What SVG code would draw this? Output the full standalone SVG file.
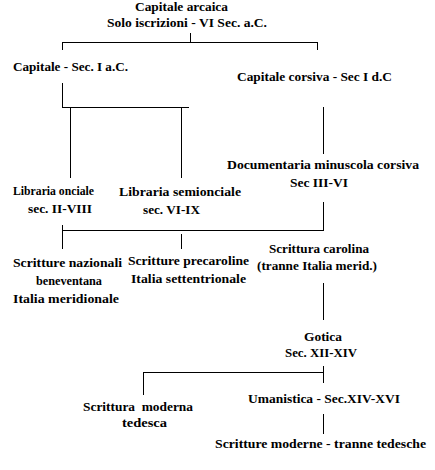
<svg xmlns="http://www.w3.org/2000/svg" width="435" height="470" viewBox="0 0 435 470">
<style>
text{font-family:"Liberation Serif","Times New Roman",serif;font-weight:bold;font-size:13px;fill:#000}
.c line{stroke:#000;stroke-width:1;shape-rendering:crispEdges}
</style>
<rect width="435" height="470" fill="#fff"/>
<g class="c" id="connectors">
<line x1="190.5" y1="33" x2="190.5" y2="42"/>
<line x1="62" y1="42.5" x2="318" y2="42.5"/>
<line x1="62.5" y1="42" x2="62.5" y2="50"/>
<line x1="317.5" y1="42" x2="317.5" y2="50"/>
<line x1="62.5" y1="83" x2="62.5" y2="107"/>
<line x1="62" y1="107.5" x2="189" y2="107.5"/>
<line x1="70.5" y1="107" x2="70.5" y2="178"/>
<line x1="181.5" y1="107" x2="181.5" y2="178"/>
<line x1="323.5" y1="107" x2="323.5" y2="154"/>
<line x1="323.5" y1="202" x2="323.5" y2="230"/>
<line x1="62" y1="230.5" x2="324" y2="230.5"/>
<line x1="62.5" y1="225" x2="62.5" y2="249"/>
<line x1="181.5" y1="234" x2="181.5" y2="249"/>
<line x1="323.5" y1="283" x2="323.5" y2="320"/>
<line x1="323.5" y1="366" x2="323.5" y2="383"/>
<line x1="143" y1="372.5" x2="324" y2="372.5"/>
<line x1="143.5" y1="372" x2="143.5" y2="395"/>
<line x1="323.5" y1="414" x2="323.5" y2="434"/>
</g>
<g id="n-arcaica">
<text x="135" y="11" textLength="93" lengthAdjust="spacingAndGlyphs">Capitale arcaica</text>
<text x="107" y="27" textLength="160" lengthAdjust="spacingAndGlyphs">Solo iscrizioni - VI Sec. a.C.</text>
</g>
<g id="n-capitale">
<text x="13" y="71" textLength="115" lengthAdjust="spacingAndGlyphs">Capitale - Sec. I a.C.</text>
</g>
<g id="n-corsiva">
<text x="237" y="81" textLength="155" lengthAdjust="spacingAndGlyphs">Capitale corsiva - Sec I d.C</text>
</g>
<g id="n-documentaria">
<text x="227" y="169" textLength="192" lengthAdjust="spacingAndGlyphs">Documentaria minuscola corsiva</text>
<text x="290" y="187" textLength="58" lengthAdjust="spacingAndGlyphs">Sec III-VI</text>
</g>
<g id="n-onciale">
<text x="13" y="195" textLength="81" lengthAdjust="spacingAndGlyphs">Libraria onciale</text>
<text x="28" y="213" textLength="64" lengthAdjust="spacingAndGlyphs">sec. II-VIII</text>
</g>
<g id="n-semionciale">
<text x="119" y="196" textLength="122" lengthAdjust="spacingAndGlyphs">Libraria semionciale</text>
<text x="143" y="214" textLength="57" lengthAdjust="spacingAndGlyphs">sec. VI-IX</text>
</g>
<g id="n-nazionali">
<text x="13" y="267" textLength="109" lengthAdjust="spacingAndGlyphs">Scritture nazionali</text>
<text x="36" y="285" textLength="66" lengthAdjust="spacingAndGlyphs">beneventana</text>
<text x="13" y="303" textLength="106" lengthAdjust="spacingAndGlyphs">Italia meridionale</text>
</g>
<g id="n-precaroline">
<text x="128" y="265" textLength="121" lengthAdjust="spacingAndGlyphs">Scritture precaroline</text>
<text x="131" y="283" textLength="115" lengthAdjust="spacingAndGlyphs">Italia settentrionale</text>
</g>
<g id="n-carolina">
<text x="269" y="253" textLength="100" lengthAdjust="spacingAndGlyphs">Scrittura carolina</text>
<text x="257" y="270" textLength="120" lengthAdjust="spacingAndGlyphs">(tranne Italia merid.)</text>
</g>
<g id="n-gotica">
<text x="304" y="341" textLength="38" lengthAdjust="spacingAndGlyphs">Gotica</text>
<text x="285" y="357" textLength="72" lengthAdjust="spacingAndGlyphs">Sec. XII-XIV</text>
</g>
<g id="n-tedesca">
<text x="83" y="411" textLength="110" lengthAdjust="spacingAndGlyphs" xml:space="preserve">Scrittura  moderna</text>
<text x="122" y="427" textLength="45" lengthAdjust="spacingAndGlyphs">tedesca</text>
</g>
<g id="n-umanistica">
<text x="248" y="403" textLength="152" lengthAdjust="spacingAndGlyphs">Umanistica - Sec.XIV-XVI</text>
</g>
<g id="n-moderne">
<text x="215" y="448" textLength="211" lengthAdjust="spacingAndGlyphs">Scritture moderne - tranne tedesche</text>
</g>
</svg>
